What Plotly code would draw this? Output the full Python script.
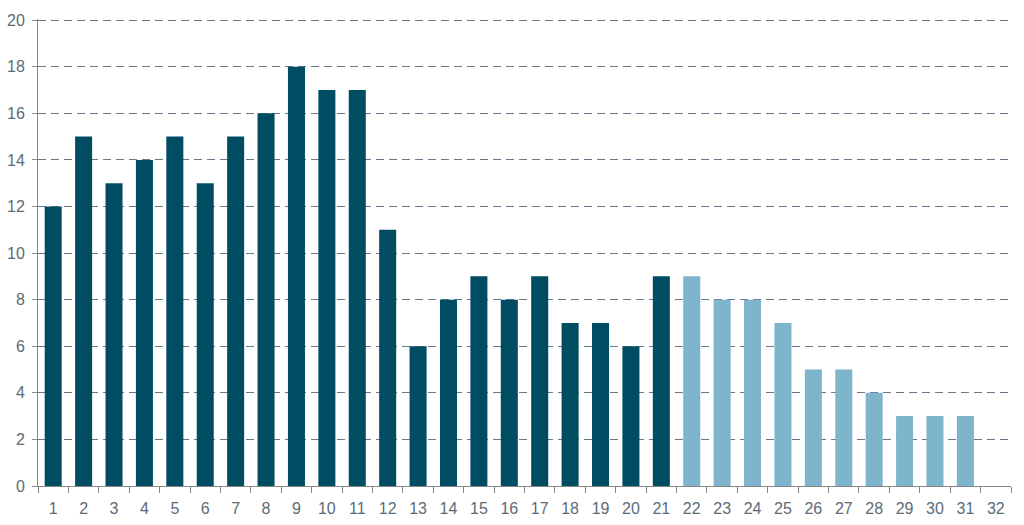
import plotly.graph_objects as go

categories = [str(i) for i in range(1, 33)]
actual_values = [12, 15, 13, 14, 15, 13, 15, 16, 18, 17, 17, 11, 6, 8, 9, 8, 9, 7, 7, 6, 9]
forecast_values = [9, 8, 8, 7, 5, 5, 4, 3, 3, 3, None]

DARK = "#004d63"
LIGHT = "#7fb4cd"
values = actual_values + forecast_values
colors = [DARK] * len(actual_values) + [LIGHT] * len(forecast_values)

fig = go.Figure()
fig.add_trace(go.Bar(x=categories, y=values, marker=dict(color=colors, line=dict(width=0)),
                     width=0.56, showlegend=False, hoverinfo="x+y"))

fig.update_layout(
    width=1024, height=525,
    margin=dict(l=38, r=13, t=19, b=39),
    paper_bgcolor="white", plot_bgcolor="white",
    font=dict(family="Liberation Sans, Arial, sans-serif", size=16, color="#5b6b78"),
    bargap=0.44,
)
fig.update_xaxes(
    type="category", tickson="boundaries", ticks="outside", ticklen=6, tickcolor="#888888",
    showline=True, linecolor="#888888", linewidth=1, showgrid=False, automargin=False,
    tickfont=dict(size=16, color="#5b6b78"), range=[-0.5, 31.5], ticklabelstandoff=8,
)
fig.update_yaxes(
    range=[0, 20.05], tickvals=list(range(0, 21, 2)), ticks="outside", ticklen=5, tickcolor="#888888",
    showline=True, linecolor="#888888", linewidth=1, automargin=False,
    showgrid=True, gridcolor="#66788a", griddash="8px,5px", gridwidth=1,
    zeroline=False, tickfont=dict(size=16, color="#5b6b78"), ticklabelstandoff=4,
)

fig.write_html("out.html")
